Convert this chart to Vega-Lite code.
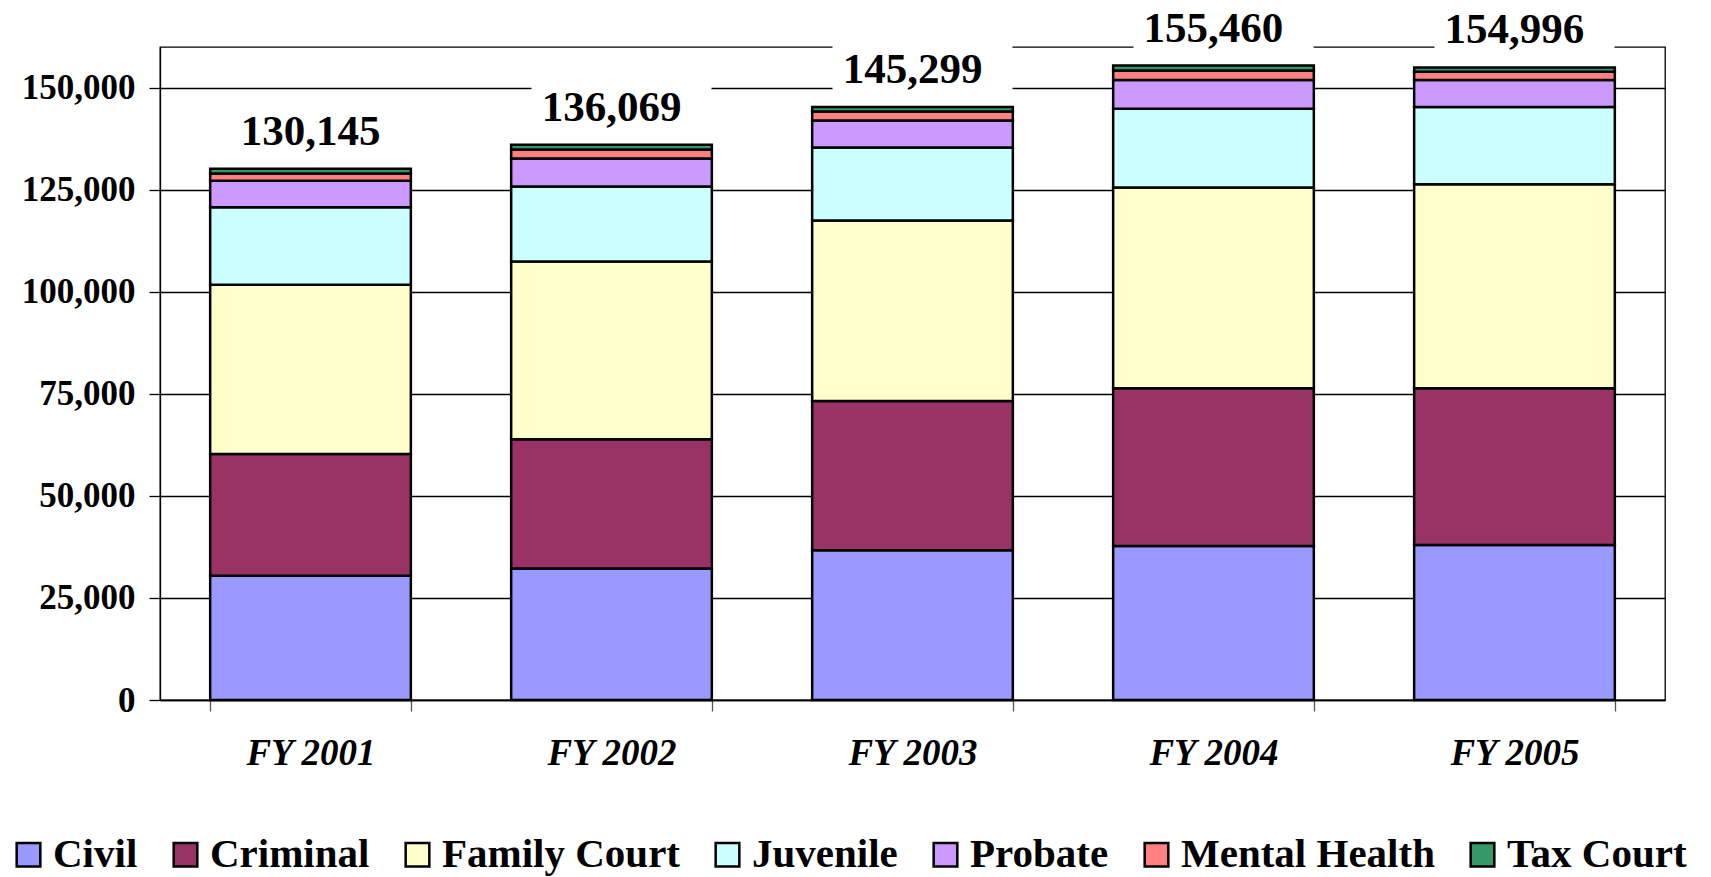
{
  "$schema": "https://vega.github.io/schema/vega-lite/v6.json",
  "autosize": {"type": "none"},
  "width": 1505,
  "height": 653,
  "padding": {"left": 160, "top": 47, "right": 46, "bottom": 177},
  "background": "white",
  "config": {
    "view": {"stroke": "black", "strokeWidth": 1.3},
    "font": "Liberation Serif"
  },
  "data": {
    "values": [
      {"year": "FY 2001", "category": "Civil", "k": 1, "value": 30470},
      {"year": "FY 2001", "category": "Criminal", "k": 2, "value": 29830},
      {"year": "FY 2001", "category": "Family Court", "k": 3, "value": 41420},
      {"year": "FY 2001", "category": "Juvenile", "k": 4, "value": 19040},
      {"year": "FY 2001", "category": "Probate", "k": 5, "value": 6450},
      {"year": "FY 2001", "category": "Mental Health", "k": 6, "value": 1790},
      {"year": "FY 2001", "category": "Tax Court", "k": 7, "value": 1145},
      {"year": "FY 2002", "category": "Civil", "k": 1, "value": 32190},
      {"year": "FY 2002", "category": "Criminal", "k": 2, "value": 31710},
      {"year": "FY 2002", "category": "Family Court", "k": 3, "value": 43530},
      {"year": "FY 2002", "category": "Juvenile", "k": 4, "value": 18380},
      {"year": "FY 2002", "category": "Probate", "k": 5, "value": 6865},
      {"year": "FY 2002", "category": "Mental Health", "k": 6, "value": 2205},
      {"year": "FY 2002", "category": "Tax Court", "k": 7, "value": 1189},
      {"year": "FY 2003", "category": "Civil", "k": 1, "value": 36690},
      {"year": "FY 2003", "category": "Criminal", "k": 2, "value": 36600},
      {"year": "FY 2003", "category": "Family Court", "k": 3, "value": 44190},
      {"year": "FY 2003", "category": "Juvenile", "k": 4, "value": 17890},
      {"year": "FY 2003", "category": "Probate", "k": 5, "value": 6620},
      {"year": "FY 2003", "category": "Mental Health", "k": 6, "value": 2210},
      {"year": "FY 2003", "category": "Tax Court", "k": 7, "value": 1099},
      {"year": "FY 2004", "category": "Civil", "k": 1, "value": 37750},
      {"year": "FY 2004", "category": "Criminal", "k": 2, "value": 38640},
      {"year": "FY 2004", "category": "Family Court", "k": 3, "value": 49180},
      {"year": "FY 2004", "category": "Juvenile", "k": 4, "value": 19290},
      {"year": "FY 2004", "category": "Probate", "k": 5, "value": 7030},
      {"year": "FY 2004", "category": "Mental Health", "k": 6, "value": 2370},
      {"year": "FY 2004", "category": "Tax Court", "k": 7, "value": 1200},
      {"year": "FY 2005", "category": "Civil", "k": 1, "value": 37990},
      {"year": "FY 2005", "category": "Criminal", "k": 2, "value": 38400},
      {"year": "FY 2005", "category": "Family Court", "k": 3, "value": 50010},
      {"year": "FY 2005", "category": "Juvenile", "k": 4, "value": 18870},
      {"year": "FY 2005", "category": "Probate", "k": 5, "value": 6620},
      {"year": "FY 2005", "category": "Mental Health", "k": 6, "value": 2030},
      {"year": "FY 2005", "category": "Tax Court", "k": 7, "value": 1076}
    ]
  },
  "encoding": {
    "x": {
      "field": "year",
      "type": "nominal",
      "scale": {"paddingInner": 0.3333, "paddingOuter": 0.1667},
      "axis": {
        "title": null,
        "labelAngle": 0,
        "labelFont": "Liberation Serif",
        "labelFontSize": 37,
        "labelFontWeight": "bold",
        "labelFontStyle": "italic",
        "labelColor": "black",
        "labelPadding": 24,
        "labelBaseline": "top",
        "tickBand": "extent",
        "tickSize": 11,
        "tickColor": "#555",
        "tickWidth": 1.3,
        "domainColor": "black",
        "domainWidth": 1.3,
        "grid": false
      }
    }
  },
  "layer": [
    {
      "mark": {"type": "bar", "stroke": "black", "strokeWidth": 2.5, "opacity": 1},
      "encoding": {
        "y": {
          "field": "value",
          "type": "quantitative",
          "stack": "zero",
          "title": null,
          "scale": {"domain": [0, 160000], "nice": false},
          "axis": {
            "title": null,
            "values": [0, 25000, 50000, 75000, 100000, 125000, 150000],
            "labelExpr": "format(datum.value, ',')",
            "labelFont": "Liberation Serif",
            "labelFontSize": 35,
            "labelFontWeight": "bold",
            "labelColor": "black",
            "labelPadding": 14,
            "tickSize": 11,
            "tickColor": "black",
            "tickWidth": 1.3,
            "domainColor": "black",
            "domainWidth": 1.3,
            "grid": true,
            "gridColor": "black",
            "gridWidth": 1.3
          }
        },
        "color": {
          "field": "category",
          "type": "nominal",
          "scale": {
            "domain": ["Civil", "Criminal", "Family Court", "Juvenile", "Probate", "Mental Health", "Tax Court"],
            "range": ["#9999FF", "#993366", "#FFFFCC", "#CCFFFF", "#CC99FF", "#FF8080", "#339966"]
          },
          "legend": {
            "title": null,
            "orient": "none",
            "legendX": -152,
            "legendY": 787,
            "direction": "horizontal",
            "columns": 7,
            "padding": 0,
            "symbolType": "square",
            "symbolSize": 560,
            "symbolStrokeColor": "black",
            "symbolStrokeWidth": 2.5,
            "symbolOpacity": 1,
            "labelFont": "Liberation Serif",
            "labelFontSize": 41,
            "labelFontWeight": "bold",
            "labelColor": "black",
            "labelLimit": 0,
            "labelOffset": 4,
            "columnPadding": 27
          }
        },
        "order": {"field": "k", "type": "quantitative"}
      }
    },
    {
      "transform": [{"aggregate": [{"op": "sum", "field": "value", "as": "total"}], "groupby": ["year"]}],
      "mark": {"type": "tick", "color": "white", "opacity": 1, "thickness": 50, "size": 180, "yOffset": -40, "xOffset": 10},
      "encoding": {
        "y": {"field": "total", "type": "quantitative", "title": null}
      }
    },
    {
      "transform": [{"aggregate": [{"op": "sum", "field": "value", "as": "total"}], "groupby": ["year"]}],
      "mark": {"type": "text", "font": "Liberation Serif", "fontSize": 43, "fontWeight": "bold", "color": "black", "baseline": "alphabetic", "dy": -24},
      "encoding": {
        "y": {"field": "total", "type": "quantitative", "title": null},
        "text": {"field": "total", "type": "quantitative", "format": ","}
      }
    }
  ]
}
